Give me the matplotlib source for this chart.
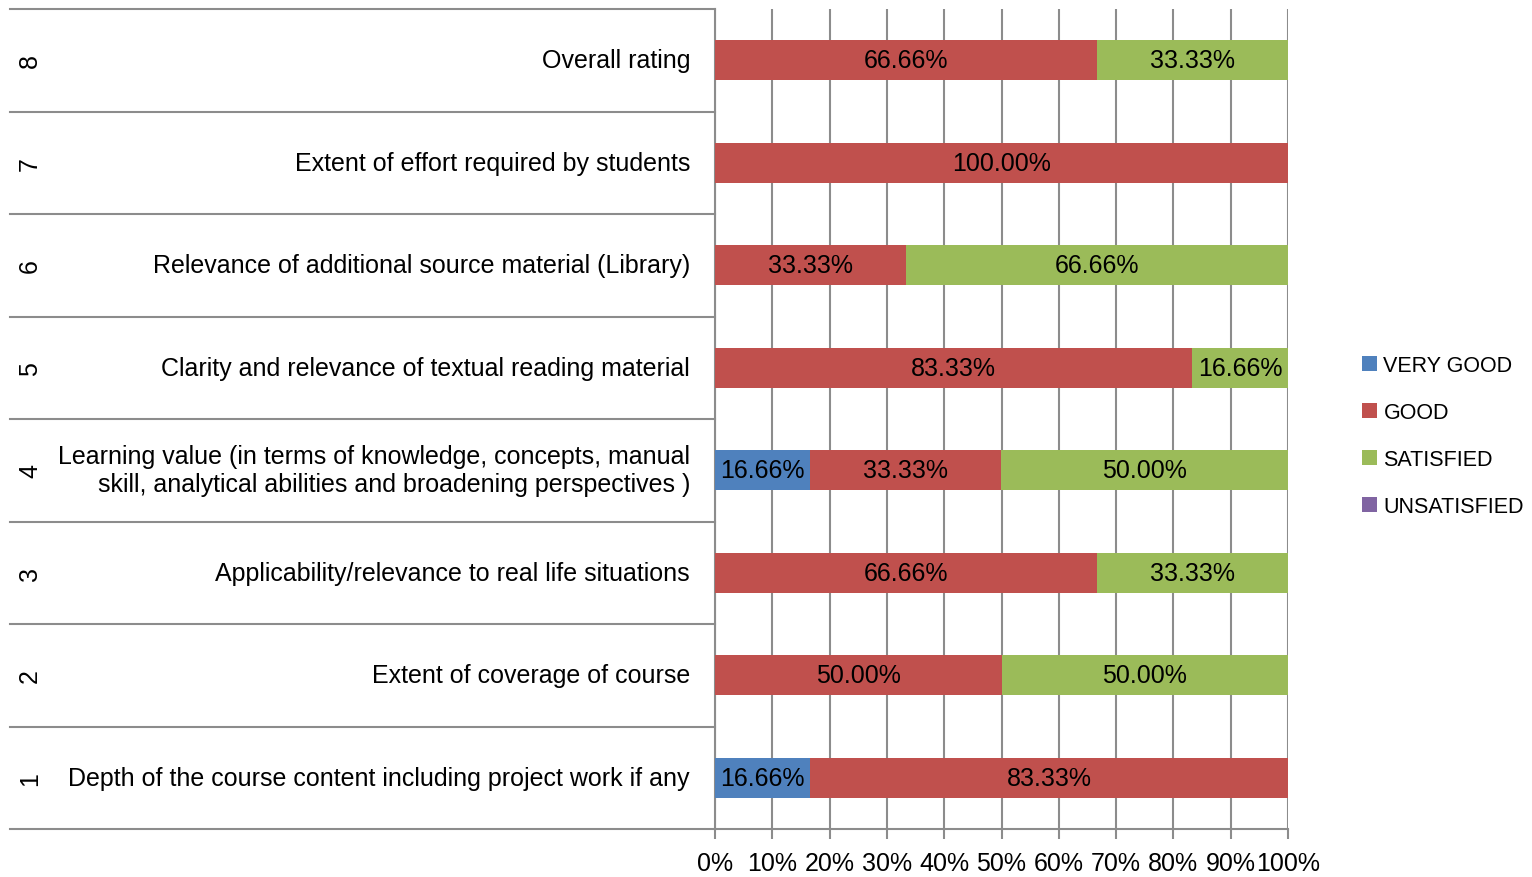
import matplotlib.pyplot as plt
import matplotlib.transforms as mtransforms
import numpy as np

plt.rcParams['font.family'] = ['Liberation Sans', 'DejaVu Sans']

# rows from bottom (1) to top (8)
numbers = ["1", "2", "3", "4", "5", "6", "7", "8"]
questions = [
    "Depth of the course content including project work if any",
    "Extent of coverage of course",
    "Applicability/relevance to real life situations",
    "Learning value (in terms of knowledge, concepts, manual\nskill, analytical abilities and broadening perspectives )",
    "Clarity and relevance of textual reading material",
    "Relevance of additional source material (Library)",
    "Extent of effort required by students",
    "Overall rating",
]
very_good = [16.66, 0, 0, 16.66, 0, 0, 0, 0]
good = [83.33, 50.00, 66.66, 33.33, 83.33, 33.33, 100.00, 66.66]
satisfied = [0, 50.00, 33.33, 50.00, 16.66, 66.66, 0, 33.33]
unsatisfied = [0, 0, 0, 0, 0, 0, 0, 0]

series = ["VERY GOOD", "GOOD", "SATISFIED", "UNSATISFIED"]
colors = ["#4F81BD", "#C0504D", "#9BBB59", "#8064A2"]
grid_col = "#8C8C8C"
fs = 18

fig = plt.figure(figsize=(15.32, 8.78), dpi=100)
ax = fig.add_axes([715 / 1532, 1 - 830 / 878, 573 / 1532, 820 / 878])

y = np.arange(len(questions))
left = np.zeros(len(questions))
for name, vals, col in zip(series, [very_good, good, satisfied, unsatisfied], colors):
    vals = np.array(vals)
    ax.barh(y, vals, left=left, height=0.39, color=col, label=name, zorder=3)
    for yi, l, v in zip(y, left, vals):
        if v > 0:
            ax.text(l + v / 2, yi, f"{v:.2f}%", ha="center", va="center",
                    fontsize=fs, color="black", zorder=4)
    left += vals

ax.set_xlim(0, 100)
ax.set_ylim(-0.5, len(questions) - 0.5)
ax.set_xticks(np.arange(0, 101, 10))
ax.set_xticklabels([f"{t}%" for t in range(0, 101, 10)], fontsize=fs)
ax.set_yticks([])
ax.xaxis.grid(True, color=grid_col, linewidth=1.5, zorder=0)
ax.tick_params(axis="x", length=7, width=1.5, color=grid_col, pad=9)
for s in ["top", "right"]:
    ax.spines[s].set_visible(False)
for s in ["left", "bottom"]:
    ax.spines[s].set_color(grid_col)
    ax.spines[s].set_linewidth(1.5)

# table-like category area on the left
trans = mtransforms.blended_transform_factory(ax.transAxes, ax.transData)
x0 = (10 - 715) / 573
for b in np.arange(-0.5, len(questions), 1.0):
    ax.plot([x0, 0], [b, b], transform=trans, color=grid_col, lw=1.5,
            clip_on=False)
for yi, num, q in zip(y, numbers, questions):
    ax.text(-25 / 573, yi, q, transform=trans, ha="right", va="center",
            fontsize=fs, linespacing=1.2)
    ax.text((30 - 715) / 573, yi, num, transform=trans, ha="center",
            va="center", rotation=90, fontsize=fs)

ax.legend(loc="center left", bbox_to_anchor=(1.129, 0.479), frameon=False,
          fontsize=15.5, handlelength=0.7, handleheight=0.7, handletextpad=0.3,
          labelspacing=1.2, borderpad=0, borderaxespad=0)

fig.savefig("out.png", dpi=100)
